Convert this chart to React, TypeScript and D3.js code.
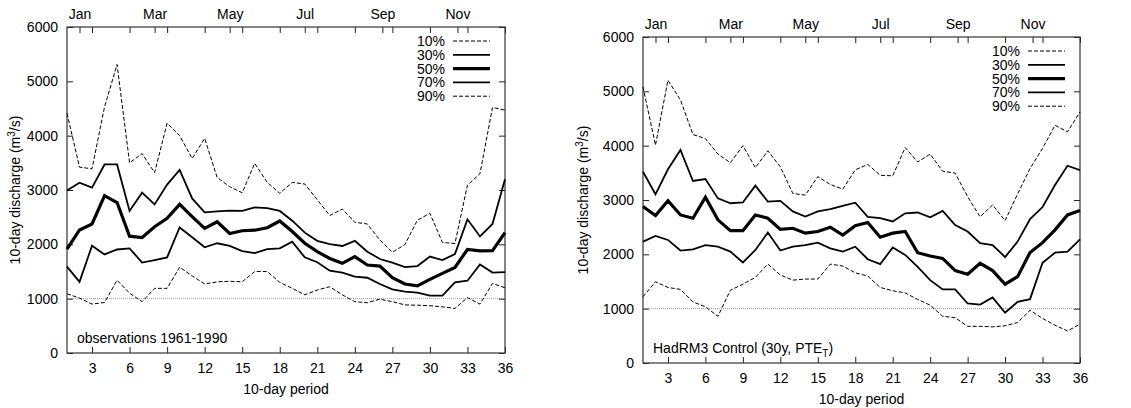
import React, { useRef, useEffect } from 'react';
import * as d3 from 'd3';

// 10-day periods of the year
const periods = d3.range(1, 37);
const periodTicks = [3, 6, 9, 12, 15, 18, 21, 24, 27, 30, 33, 36];
const dischargeTicks = [0, 1000, 2000, 3000, 4000, 5000, 6000];
const monthLabels = ['Jan', 'Mar', 'May', 'Jul', 'Sep', 'Nov'];
const monthPositions = [2, 8, 14, 20, 26.2, 32.2];
const percentiles = ['10%', '30%', '50%', '70%', '90%'];

// observations 1961-1990
const obs10 = [1090, 1010, 900, 930, 1340, 1100, 945, 1190, 1190, 1580, 1420, 1270, 1310, 1320, 1310, 1500, 1500, 1300, 1190, 1070, 1160, 1220, 1070, 945, 925, 990, 945, 885, 880, 870, 850, 820, 1020, 900, 1280, 1200];
const obs30 = [1590, 1310, 1975, 1815, 1905, 1925, 1665, 1710, 1760, 2310, 2130, 1945, 2020, 1970, 1875, 1840, 1910, 1925, 2050, 1760, 1670, 1515, 1480, 1405, 1385, 1270, 1170, 1130, 1110, 1055, 1055, 1300, 1330, 1630, 1480, 1490];
const obs50 = [1910, 2265, 2375, 2895, 2770, 2150, 2125, 2325, 2480, 2735, 2510, 2295, 2415, 2200, 2250, 2260, 2305, 2430, 2235, 2020, 1865, 1740, 1650, 1775, 1620, 1600, 1385, 1270, 1235, 1355, 1465, 1575, 1905, 1880, 1885, 2215];
const obs70 = [2990, 3135, 3045, 3470, 3470, 2615, 2950, 2735, 3100, 3370, 2845, 2590, 2605, 2620, 2615, 2680, 2665, 2615, 2435, 2215, 2065, 2005, 1970, 2065, 1865, 1730, 1665, 1580, 1600, 1775, 1710, 1820, 2460, 2145, 2375, 3200];
const obs90 = [4410, 3420, 3390, 4530, 5310, 3500, 3670, 3320, 4230, 4000, 3580, 3950, 3230, 3060, 2950, 3490, 3140, 2940, 3140, 3110, 2820, 2530, 2650, 2405, 2375, 2080, 1855, 1995, 2445, 2570, 2035, 2015, 3090, 3300, 4520, 4470];

// HadRM3 control run
const ctl10 = [1220, 1495, 1390, 1355, 1125, 1035, 860, 1340, 1450, 1575, 1820, 1620, 1525, 1545, 1545, 1820, 1785, 1660, 1600, 1390, 1330, 1290, 1170, 1065, 860, 835, 675, 675, 665, 685, 745, 970, 820, 695, 590, 715];
const ctl30 = [2235, 2340, 2265, 2070, 2090, 2170, 2140, 2050, 1850, 2080, 2400, 2070, 2140, 2170, 2215, 2110, 2050, 2140, 1910, 1820, 2125, 1990, 1770, 1525, 1355, 1355, 1095, 1075, 1205, 925, 1125, 1175, 1845, 2030, 2050, 2275];
const ctl50 = [2880, 2715, 2985, 2725, 2665, 3050, 2635, 2435, 2435, 2725, 2665, 2460, 2480, 2390, 2420, 2500, 2355, 2525, 2585, 2315, 2390, 2420, 2030, 1970, 1925, 1700, 1635, 1835, 1700, 1450, 1590, 2035, 2215, 2450, 2725, 2805];
const ctl70 = [3520, 3105, 3565, 3920, 3350, 3385, 3030, 2940, 2955, 3265, 2970, 2985, 2790, 2695, 2790, 2830, 2890, 2950, 2690, 2665, 2605, 2755, 2770, 2680, 2800, 2540, 2420, 2205, 2172, 1950, 2235, 2650, 2870, 3275, 3630, 3550];
const ctl90 = [5080, 4010, 5205, 4840, 4205, 4130, 3845, 3685, 4000, 3595, 3905, 3610, 3120, 3090, 3430, 3285, 3200, 3555, 3655, 3455, 3445, 3965, 3700, 3845, 3530, 3495, 3060, 2690, 2910, 2620, 3110, 3580, 3950, 4375, 4255, 4620];

const FONT = '"Liberation Sans", Arial, Helvetica, sans-serif';
const FS = 14;
// line style per percentile
const widths = [1, 1.8, 3.2, 1.8, 1];
const dashes = ['4,2', null, null, null, '4,2'];

const drawPanel = (root, p) => {
  const x = d3.scaleLinear().domain([1, 36]).range([p.x0, p.x1]);
  const y = d3.scaleLinear().domain([0, 6000]).range([p.yBot, p.yTop]);
  const g = root.append('g');

  // reference line at 1000
  g.append('line')
    .attr('x1', p.x0).attr('x2', p.x1)
    .attr('y1', y(1000)).attr('y2', y(1000))
    .attr('stroke', '#999').attr('stroke-width', 1).attr('stroke-dasharray', '1,1');

  const styleAxis = (sel, labels) => {
    sel.select('.domain').remove();
    sel.attr('font-family', FONT).attr('font-size', FS);
    sel.selectAll('line').attr('stroke', '#222');
    sel.selectAll('text').attr('fill', '#000');
    if (!labels) sel.selectAll('text').remove();
  };

  g.append('g').attr('transform', `translate(0,${p.yBot})`)
    .call(d3.axisBottom(x).tickValues(periodTicks).tickSize(-6).tickPadding(10))
    .call(s => styleAxis(s, true));
  g.append('g').attr('transform', `translate(0,${p.yTop})`)
    .call(d3.axisTop(x).tickValues(periodTicks).tickSize(-6))
    .call(s => styleAxis(s, false));
  g.append('g').attr('transform', `translate(0,${p.yTop})`)
    .call(d3.axisTop(x).tickValues(monthPositions).tickSize(-6).tickPadding(8.5)
      .tickFormat((d, i) => monthLabels[i]))
    .call(s => styleAxis(s, true));
  g.append('g').attr('transform', `translate(${p.x0},0)`)
    .call(d3.axisLeft(y).tickValues(dischargeTicks).tickSize(-6).tickPadding(9).tickFormat(d3.format('d')))
    .call(s => styleAxis(s, true));
  g.append('g').attr('transform', `translate(${p.x1},0)`)
    .call(d3.axisRight(y).tickValues(dischargeTicks).tickSize(-6))
    .call(s => styleAxis(s, false));

  // frame
  g.append('rect')
    .attr('x', p.x0).attr('y', p.yTop)
    .attr('width', p.x1 - p.x0).attr('height', p.yBot - p.yTop)
    .attr('fill', 'none').attr('stroke', '#333').attr('stroke-width', 1.2);

  const line = d3.line().x((d, i) => x(periods[i])).y(d => y(d));
  p.series.forEach((s, k) => {
    g.append('path')
      .attr('d', line(s))
      .attr('fill', 'none')
      .attr('stroke', '#000')
      .attr('stroke-width', widths[k])
      .attr('stroke-linejoin', 'miter')
      .attr('stroke-dasharray', dashes[k]);
  });

  // legend
  const lx1 = p.x1 - 15;
  const lx0 = lx1 - 37;
  percentiles.forEach((label, k) => {
    const ly = p.yTop + 14 + k * 13.8;
    g.append('text')
      .attr('x', lx0 - 8).attr('y', ly).attr('dy', '0.36em')
      .attr('text-anchor', 'end')
      .attr('font-family', FONT).attr('font-size', FS)
      .text(label);
    g.append('line')
      .attr('x1', lx0).attr('x2', lx1).attr('y1', ly).attr('y2', ly)
      .attr('stroke', '#000').attr('stroke-width', widths[k])
      .attr('stroke-dasharray', dashes[k]);
  });

  // inset title
  const t = g.append('text')
    .attr('x', p.x0 + 10).attr('y', p.yBot - 10)
    .attr('font-family', FONT).attr('font-size', FS);
  t.append('tspan').text(p.title);
  if (p.sub) {
    t.append('tspan').attr('dy', 4).attr('font-size', 10).text(p.sub);
    t.append('tspan').attr('dy', -4).text(p.tail);
  }

  // axis titles
  g.append('text')
    .attr('x', (p.x0 + p.x1) / 2).attr('y', p.yBot + 41)
    .attr('text-anchor', 'middle')
    .attr('font-family', FONT).attr('font-size', FS)
    .text('10-day period');
  const yl = g.append('text')
    .attr('transform', `translate(${p.yLabelX},${(p.yTop + p.yBot) / 2}) rotate(-90)`)
    .attr('text-anchor', 'middle')
    .attr('font-family', FONT).attr('font-size', FS);
  yl.append('tspan').text('10-day discharge (m');
  yl.append('tspan').attr('dy', -5).attr('font-size', 10).text('3');
  yl.append('tspan').attr('dy', 5).text('/s)');
};

const App = () => {
  const svgRef = useRef<SVGSVGElement | null>(null);

  useEffect(() => {
    const svg = d3.select(svgRef.current);
    svg.selectAll('*').remove();
    svg.append('rect').attr('width', 1131).attr('height', 408).attr('fill', '#fff');

    drawPanel(svg, {
      x0: 67, x1: 505, yTop: 27, yBot: 353, yLabelX: 20,
      series: [obs10, obs30, obs50, obs70, obs90],
      title: 'observations 1961-1990',
    });
    drawPanel(svg, {
      x0: 643, x1: 1080, yTop: 37, yBot: 363, yLabelX: 588,
      series: [ctl10, ctl30, ctl50, ctl70, ctl90],
      title: 'HadRM3 Control (30y, PTE',
      sub: 'T',
      tail: ')',
    });
  }, []);

  return (
    <svg
      ref={svgRef}
      width={1131}
      height={408}
      style={{ position: 'absolute', left: 0, top: 0 }}
    />
  );
};

export default App;
